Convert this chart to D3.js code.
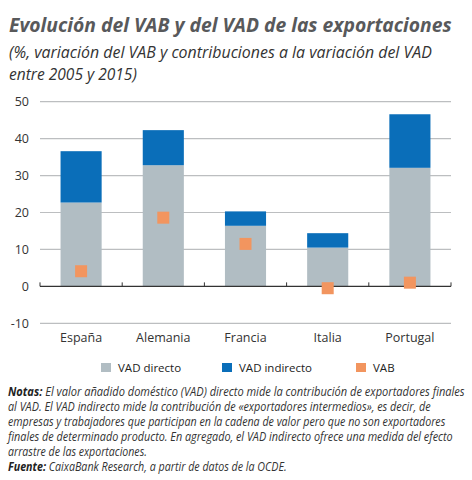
<!DOCTYPE html>
<html>
<head>
<meta charset="utf-8">
<script src="https://cdn.jsdelivr.net/npm/d3@7"></script>
<style>
  body { margin: 0; background: #fff; }
  svg { display: block; font-family: "Open Sans", "Noto Sans", sans-serif; }
</style>
</head>
<body>
<svg id="chart" width="472" height="480"></svg>
<script>
// data
const countries = ["España", "Alemania", "Francia", "Italia", "Portugal"];
const vadDirecto = [22.7, 32.8, 16.4, 10.5, 32.1];
const vadIndirecto = [13.9, 9.5, 3.9, 3.9, 14.5];
const vab = [4.1, 18.6, 11.5, -0.5, 1.0];
const yTicks = [-10, 0, 10, 20, 30, 40, 50];
const legendItems = ["VAD directo", "VAD indirecto", "VAB"];

const colors = { directo: "#b1bdc3", indirecto: "#0a6eb9", vab: "#f2955f" };

const svg = d3.select("#chart");

// squeeze a text line horizontally so it spans the target width (narrow source font)
function fitWidth(sel, x, target) {
	const w = sel.node().getComputedTextLength();
	const k = target / w;
	sel.attr("x", 0).attr("transform", `translate(${x},${sel.attr("y")}) scale(${k},1)`).attr("y", 0);
}

// title block
const title = svg.append("text")
	.attr("y", 31.5)
	.attr("fill", "#58595b")
	.attr("font-size", 20)
	.attr("font-weight", "bold")
	.attr("font-style", "italic")
	.text("Evolución del VAB y del VAD de las exportaciones");
fitWidth(title, 9, 443);

const sub1 = svg.append("text")
	.attr("y", 58)
	.attr("fill", "#333")
	.attr("font-size", 16.5)
	.attr("font-style", "italic")
	.text("(%, variación del VAB y contribuciones a la variación del VAD");
fitWidth(sub1, 9, 423);

const sub2 = svg.append("text")
	.attr("y", 80)
	.attr("fill", "#333")
	.attr("font-size", 16.5)
	.attr("font-style", "italic")
	.text("entre 2005 y 2015)");
fitWidth(sub2, 9, 128);

// chart area
const x = d3.scaleBand().domain(countries).range([40, 451]).paddingInner(0.5).paddingOuter(0.25);
const y = d3.scaleLinear().domain([-10, 50]).range([323.3, 101.7]);

const grid = svg.append("g");
grid.selectAll("line")
	.data(yTicks.filter(d => d !== 0))
	.join("line")
	.attr("x1", 40).attr("x2", 451)
	.attr("y1", d => y(d)).attr("y2", d => y(d))
	.attr("stroke", "#bcbec0")
	.attr("stroke-width", 1.2);

svg.append("g")
	.selectAll("text")
	.data(yTicks)
	.join("text")
	.attr("x", 29)
	.attr("y", d => y(d) + 4.5)
	.attr("text-anchor", "end")
	.attr("fill", "#333")
	.attr("font-size", 12.5)
	.text(d => d);

// stacked bars
const bars = svg.append("g");
bars.selectAll("rect.directo")
	.data(countries)
	.join("rect")
	.attr("class", "directo")
	.attr("x", d => x(d))
	.attr("width", x.bandwidth())
	.attr("y", (d, i) => y(vadDirecto[i]))
	.attr("height", (d, i) => y(0) - y(vadDirecto[i]))
	.attr("fill", colors.directo);

bars.selectAll("rect.indirecto")
	.data(countries)
	.join("rect")
	.attr("class", "indirecto")
	.attr("x", d => x(d))
	.attr("width", x.bandwidth())
	.attr("y", (d, i) => y(vadDirecto[i] + vadIndirecto[i]))
	.attr("height", (d, i) => y(vadDirecto[i]) - y(vadDirecto[i] + vadIndirecto[i]))
	.attr("fill", colors.indirecto);

// zero axis with small upward ticks at band boundaries
const axis = d3.axisBottom(x).tickSize(0).tickFormat("");
svg.append("g")
	.attr("transform", `translate(0,${y(0)})`)
	.call(axis)
	.call(g => g.select(".domain").attr("stroke", "#333").attr("stroke-width", 1.2).attr("d", "M40,0H451"));

const step = x.step();
svg.append("g")
	.selectAll("line")
	.data(d3.range(countries.length + 1))
	.join("line")
	.attr("x1", i => 40 + i * step).attr("x2", i => 40 + i * step)
	.attr("y1", y(0)).attr("y2", y(0) - 4)
	.attr("stroke", "#333")
	.attr("stroke-width", 1);

// VAB markers
const sq = 12;
svg.append("g")
	.selectAll("rect")
	.data(countries)
	.join("rect")
	.attr("x", d => x(d) + x.bandwidth() / 2 - sq / 2)
	.attr("y", (d, i) => y(vab[i]) - sq / 2)
	.attr("width", sq).attr("height", sq)
	.attr("fill", colors.vab);

// category labels
svg.append("g")
	.selectAll("text")
	.data(countries)
	.join("text")
	.attr("x", d => x(d) + x.bandwidth() / 2)
	.attr("y", 342)
	.attr("text-anchor", "middle")
	.attr("fill", "#333")
	.attr("font-size", 12.5)
	.text(d => d);

// legend
const legendX = [101, 222, 356];
const legendColors = [colors.directo, colors.indirecto, colors.vab];
const legend = svg.append("g");
legendItems.forEach((name, i) => {
	legend.append("rect")
		.attr("x", legendX[i]).attr("y", 363)
		.attr("width", 10).attr("height", 9)
		.attr("fill", legendColors[i]);
	legend.append("text")
		.attr("x", legendX[i] + 17)
		.attr("y", 372)
		.attr("fill", "#222")
		.attr("font-size", 11.5)
		.text(name);
});

// notes
const notes = [
	{ b: "Notas:", t: " El valor añadido doméstico (VAD) directo mide la contribución de exportadores finales", w: 457 },
	{ b: "", t: "al VAD. El VAD indirecto mide la contribución de «exportadores intermedios», es decir, de", w: 423 },
	{ b: "", t: "empresas y trabajadores que participan en la cadena de valor pero que no son exportadores", w: 438 },
	{ b: "", t: "finales de determinado producto. En agregado, el VAD indirecto ofrece una medida del efecto", w: 445 },
	{ b: "", t: "arrastre de las exportaciones.", w: 139 },
	{ b: "Fuente:", t: " CaixaBank Research, a partir de datos de la OCDE.", w: 279 }
];
notes.forEach((n, i) => {
	const t = svg.append("text")
		.attr("y", 396 + i * 15)
		.attr("fill", "#333")
		.attr("font-size", 12.5)
		.attr("font-style", "italic");
	if (n.b) t.append("tspan").attr("font-weight", "bold").attr("fill", "#222").text(n.b);
	t.append("tspan").text(n.t);
	fitWidth(t, 8, n.w);
});
</script>
</body>
</html>
